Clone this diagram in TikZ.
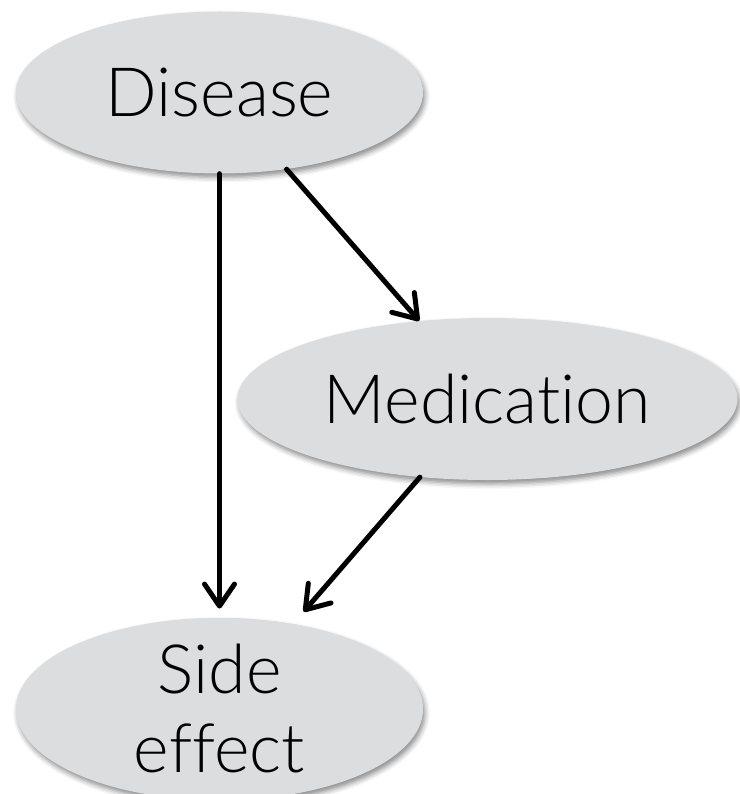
\documentclass[tikz,border=0pt]{standalone}
\usepackage{fontspec}
\setmainfont{Lato}[UprightFont=* Light, Ligatures=NoCommon]
\usetikzlibrary{arrows.meta,shapes.geometric,shadows.blur}
\definecolor{nodegray}{RGB}{220,221,223}
\begin{document}
\begin{tikzpicture}[x=1pt,y=-1pt,
  var/.style={ellipse, fill=nodegray, inner sep=0pt,
    minimum width=#1*2pt, minimum height=162pt, align=center,
    font=\fontsize{68}{79}\selectfont,
    blur shadow={shadow xshift=2pt, shadow yshift=-4pt,
      shadow blur radius=5pt, shadow opacity=45}},
  link/.style={line width=5pt, line cap=round,
    -{Straight Barb[length=22pt,width=30pt,line cap=round,line join=round]}}]
  \useasboundingbox (0,0) rectangle (739,794);
  % the three variables
  \node[var=203.5] (dis) at (219.5,92.5) {Disease};
  \node[var=250]   (med) at (487.5,399)  {Medication};
  \node[var=203.5] (se)  at (219.5,709)  {Side\\effect};
  % causal links
  \draw[link, shorten >=9pt] (dis) -- (se);
  \draw[link] (dis) -- (med);
  \draw[link, shorten >=16pt] (med) -- (se);
\end{tikzpicture}
\end{document}
